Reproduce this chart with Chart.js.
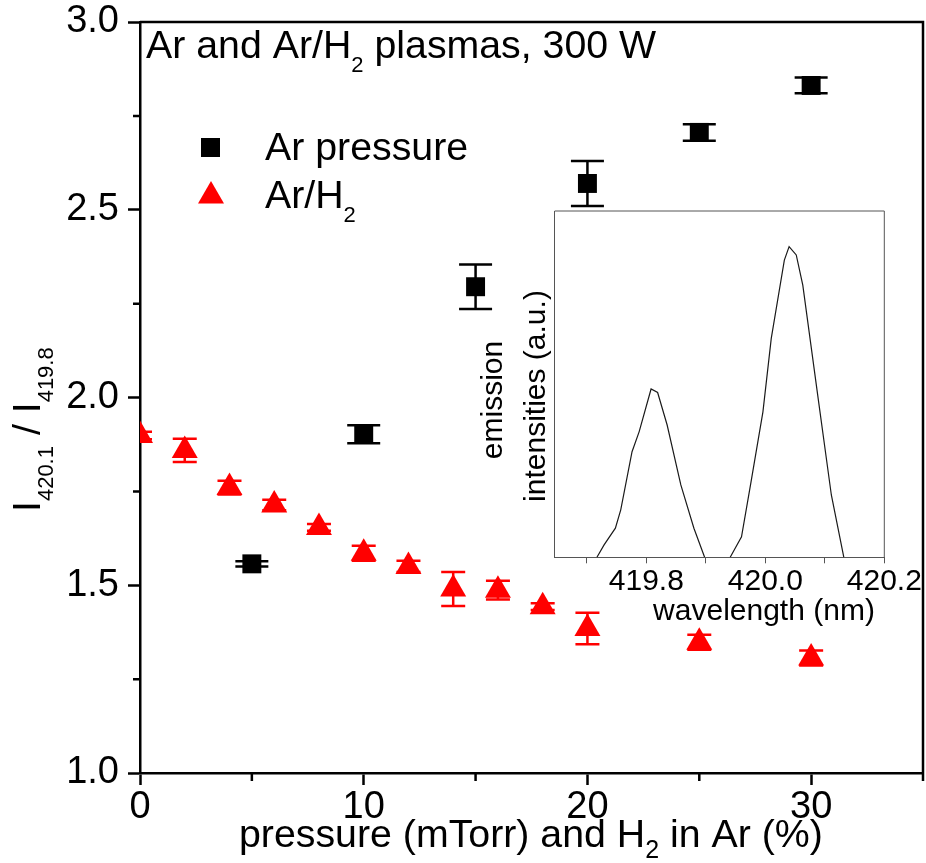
<!DOCTYPE html>
<html><head><meta charset="utf-8">
<script src="https://cdn.jsdelivr.net/npm/chart.js@4"></script>
<style>
html,body{margin:0;padding:0;background:#fff;}
#wrap{position:relative;width:926px;height:863px;overflow:hidden;background:#fff;}
#main{position:absolute;left:0;top:0;}
#inset{position:absolute;left:460px;top:190px;}
</style></head><body>
<div id="wrap"><canvas id="main" width="938" height="863"></canvas><canvas id="inset" width="466" height="470"></canvas></div>
<script>
// ---- data ----
const arPressure = [5, 10, 15, 20, 25, 30];
const arRatio    = [1.557, 1.902, 2.295, 2.570, 2.706, 2.831];
const arErr      = [0.007, 0.024, 0.059, 0.060, 0.022, 0.021];

const h2Percent = [0, 2, 4, 6, 8, 10, 12, 14, 16, 18, 20, 25, 30];
const h2Ratio   = [1.899, 1.859, 1.760, 1.714, 1.654, 1.585, 1.550, 1.490, 1.487, 1.443, 1.385, 1.348, 1.306];
const h2Err     = [0.010, 0.031, 0.018, 0.014, 0.009, 0.020, 0.015, 0.045, 0.025, 0.009, 0.042, 0.020, 0.020];

const xMajorTicks = [0, 10, 20, 30];
const xMinorTicks = [5, 15, 25, 35];
const yMajorTicks = [1.0, 1.5, 2.0, 2.5, 3.0];
const yMinorTicks = [1.25, 1.75, 2.25, 2.75];

const insetWavelength = [419.717, 419.729, 419.748, 419.757, 419.776, 419.788, 419.808, 419.819, 419.835, 419.858, 419.880, 419.898,
                         419.920,
                         419.941, 419.960, 419.976, 419.996, 420.010, 420.032, 420.040, 420.052, 420.063, 420.088, 420.111, 420.132];
const insetIntensity  = [0, 0.036, 0.084, 0.137, 0.305, 0.363, 0.486, 0.476, 0.382, 0.209, 0.084, 0,
                         null,
                         0, 0.059, 0.218, 0.420, 0.632, 0.858, 0.897, 0.873, 0.786, 0.469, 0.180, 0];
const insetTicks   = [419.7, 419.8, 419.9, 420.0, 420.1, 420.2];
const insetLabeled = ['419.8', '420.0', '420.2'];

// ---- helpers ----
const FONT = '"Liberation Sans", Arial, Helvetica, sans-serif';
const TXT = 39.3;
function runs(ctx, parts, x, y) {
  let cx = x;
  for (const [t, s, dy] of parts) {
    ctx.font = s + 'px ' + FONT;
    ctx.fillText(t, cx, y + dy);
    cx += ctx.measureText(t).width;
  }
  return cx;
}

const mainDecor = {
  id: 'mainDecor',
  beforeDatasetsDraw(chart) {
    const {ctx, chartArea: a, scales: {x, y}} = chart;
    ctx.save();
    ctx.beginPath(); ctx.rect(a.left, a.top, a.right - a.left, a.bottom - a.top); ctx.clip();
    chart.data.datasets.forEach(ds => {
      ctx.strokeStyle = ds.backgroundColor; ctx.lineWidth = 2.5;
      ds.data.forEach((p, i) => {
        const e = ds.errors[i];
        const px = x.getPixelForValue(p.x);
        const y1 = y.getPixelForValue(p.y + e), y2 = y.getPixelForValue(p.y - e);
        const w = ds.capWidth / 2;
        ctx.beginPath();
        ctx.moveTo(px, y1); ctx.lineTo(px, y2);
        ctx.moveTo(px - w, y1); ctx.lineTo(px + w, y1);
        ctx.moveTo(px - w, y2); ctx.lineTo(px + w, y2);
        ctx.stroke();
      });
    });
    ctx.restore();
  },
  afterDraw(chart) {
    const {ctx, chartArea: a, scales: {x, y}} = chart;
    ctx.save();
    // frame top/right
    ctx.strokeStyle = '#000'; ctx.lineWidth = 2.5;
    ctx.beginPath();
    ctx.moveTo(a.left, a.top); ctx.lineTo(a.right, a.top); ctx.lineTo(a.right, a.bottom);
    ctx.stroke();
    // minor ticks
    ctx.beginPath();
    xMinorTicks.forEach(v => { const px = x.getPixelForValue(v); ctx.moveTo(px, a.bottom); ctx.lineTo(px, a.bottom + 8); });
    yMinorTicks.forEach(v => { const py = y.getPixelForValue(v); ctx.moveTo(a.left, py); ctx.lineTo(a.left - 7, py); });
    ctx.stroke();
    // texts
    ctx.fillStyle = '#000'; ctx.textAlign = 'left'; ctx.textBaseline = 'alphabetic';
    runs(ctx, [['Ar and Ar/H', TXT, 0], ['2', 22, 14], [' plasmas, 300 W', TXT, 0]], 146, 58);
    runs(ctx, [['Ar pressure', TXT, 0]], 265, 160);
    runs(ctx, [['Ar/H', TXT, 0], ['2', 22, 14]], 265, 208);
    runs(ctx, [['pressure (mTorr) and H', TXT, 0], ['2', 25, 11], [' in Ar (%)', TXT, 0]], 239, 847);
    ctx.save();
    ctx.translate(40, 512); ctx.rotate(-Math.PI / 2);
    runs(ctx, [['I', TXT, 0], ['420.1', 22, 13], [' / ', TXT, 0], ['I', TXT, 0], ['419.8', 22, 13]], 0, 0);
    ctx.restore();
    // legend symbols
    const d0 = chart.data.datasets[0], d1 = chart.data.datasets[1];
    ctx.fillStyle = d0.backgroundColor;
    ctx.fillRect(201, 138, 19, 19);
    ctx.fillStyle = d1.backgroundColor;
    ctx.beginPath(); ctx.moveTo(211, 181); ctx.lineTo(224, 203.5); ctx.lineTo(198, 203.5); ctx.closePath(); ctx.fill();
    ctx.restore();
  }
};

new Chart(document.getElementById('main'), {
  type: 'scatter',
  data: { datasets: [
    { label: 'Ar pressure', data: arPressure.map((v, i) => ({x: v, y: arRatio[i]})), errors: arErr, capWidth: 33,
      pointStyle: 'rect', pointRadius: 13.4, pointHoverRadius: 13.4, backgroundColor: '#000000', borderColor: '#000000', pointBorderWidth: 0, clip: 0 },
    { label: 'Ar/H2', data: h2Percent.map((v, i) => ({x: v, y: h2Ratio[i]})), errors: h2Err, capWidth: 24,
      pointStyle: 'triangle', pointRadius: 15, pointHoverRadius: 15, backgroundColor: '#ff0000', borderColor: '#ff0000', pointBorderWidth: 0, clip: 0 }
  ]},
  options: {
    responsive: false, animation: false, devicePixelRatio: 1, events: [],
    layout: { padding: {left: 0, top: 22, right: 0, bottom: 0} },
    plugins: { legend: {display: false}, tooltip: {enabled: false}, title: {display: false} },
    scales: {
      x: { type: 'linear', min: 0, max: 35,
        afterBuildTicks: s => { s.ticks = xMajorTicks.map(v => ({value: v})); },
        afterFit: s => { s.height = 90; s.paddingLeft = 0; s.paddingRight = 0; },
        ticks: { font: {size: 38, family: FONT}, color: '#000', padding: 0, maxRotation: 0, autoSkip: false, callback: v => String(v) },
        grid: { drawOnChartArea: false, drawTicks: true, tickLength: 12, tickWidth: 2.5, tickColor: '#000' },
        border: { display: true, color: '#000', width: 2.5 } },
      y: { type: 'linear', min: 1, max: 3,
        afterBuildTicks: s => { s.ticks = yMajorTicks.map(v => ({value: v})); },
        afterFit: s => { s.width = 140; s.paddingTop = 0; s.paddingBottom = 0; },
        ticks: { font: {size: 38, family: FONT}, color: '#000', padding: 9, autoSkip: false, callback: v => Number(v).toFixed(1) },
        grid: { drawOnChartArea: false, drawTicks: true, tickLength: 12, tickWidth: 2.5, tickColor: '#000' },
        border: { display: true, color: '#000', width: 2.5 } }
    }
  },
  plugins: [mainDecor]
});

const insetDecor = {
  id: 'insetDecor',
  afterDraw(chart) {
    const {ctx, chartArea: a} = chart;
    ctx.save();
    ctx.strokeStyle = '#555'; ctx.lineWidth = 1;
    ctx.beginPath();
    ctx.moveTo(a.left, a.top); ctx.lineTo(a.right, a.top); ctx.lineTo(a.right, a.bottom);
    ctx.stroke();
    ctx.fillStyle = '#000';
    ctx.font = '30px ' + FONT;
    ctx.textAlign = 'center'; ctx.textBaseline = 'alphabetic';
    ctx.fillText('wavelength (nm)', 304, 430);
    ctx.textBaseline = 'middle';
    ctx.save(); ctx.translate(33.5, 210); ctx.rotate(-Math.PI / 2); ctx.fillText('emission', 0, 0); ctx.restore();
    ctx.save(); ctx.translate(77, 206); ctx.rotate(-Math.PI / 2); ctx.fillText('intensities (a.u.)', 0, 0); ctx.restore();
    ctx.restore();
  }
};

new Chart(document.getElementById('inset'), {
  type: 'scatter',
  data: { datasets: [
    { data: insetWavelength.map((v, i) => ({x: v, y: insetIntensity[i]})), showLine: true, pointRadius: 0, pointHoverRadius: 0,
      borderColor: '#1a1a1a', borderWidth: 1.2, tension: 0, spanGaps: false, clip: 0 }
  ]},
  options: {
    responsive: false, animation: false, devicePixelRatio: 1, events: [],
    layout: { padding: {left: 0, top: 21, right: 41.7, bottom: 0} },
    plugins: { legend: {display: false}, tooltip: {enabled: false} },
    scales: {
      x: { type: 'linear', min: 419.646, max: 420.2,
        afterBuildTicks: s => { s.ticks = insetTicks.map(v => ({value: v})); },
        afterFit: s => { s.height = 102.7; s.paddingLeft = 0; s.paddingRight = 0; },
        ticks: { font: {size: 30, family: FONT}, color: '#000', padding: 0, maxRotation: 0, autoSkip: false,
          callback: v => { const t = Number(v).toFixed(1); return insetLabeled.includes(t) ? t : ''; } },
        grid: { drawOnChartArea: false, drawTicks: true, tickLength: 6, tickWidth: 1, tickColor: '#555' },
        border: { display: true, color: '#555', width: 1 } },
      y: { type: 'linear', min: 0, max: 1,
        afterFit: s => { s.width = 94.7; s.paddingTop = 0; s.paddingBottom = 0; },
        ticks: { display: false },
        grid: { drawOnChartArea: false, drawTicks: false },
        border: { display: true, color: '#555', width: 1 } }
    }
  },
  plugins: [insetDecor]
});
</script>
</body></html>
